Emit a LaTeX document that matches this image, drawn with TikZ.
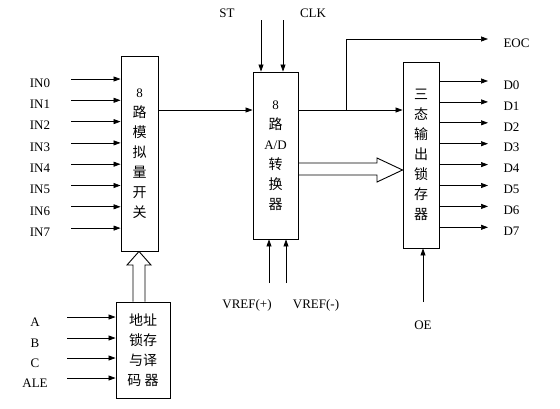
\documentclass[tikz,border=0pt]{standalone}
\usepackage{fontspec}
\setmainfont{Liberation Serif}
\newfontfamily\cjk{Noto Sans CJK SC}
\newcommand{\zh}[1]{{\cjk\fontsize{14}{20}\selectfont #1}}
\usetikzlibrary{arrows.meta}
\begin{document}
\begin{tikzpicture}[x=1pt,y=-1pt,
    blk/.style={draw,line width=0.9pt,inner sep=0pt,align=center,font=\fontsize{13}{20}\selectfont},
    sig/.style={line width=0.7pt,-{Triangle[length=7pt,width=5pt]}},
    hollow/.style={line width=0.9pt},
    lbl/.style={font=\fontsize{13}{15}\selectfont}]
    \useasboundingbox (0,0) rectangle (560,408);
    % blocks
    \node[blk,minimum width=37pt,minimum height=195pt] (mux) at (139.5,153.5)
        {8\\\zh{路}\\\zh{模}\\\zh{拟}\\\zh{量}\\\zh{开}\\\zh{关}};
    \node[blk,minimum width=45pt,minimum height=167pt] (adc) at (275.5,155.5)
        {8\\\zh{路}\\A/D\\\zh{转}\\\zh{换}\\\zh{器}};
    \node[blk,minimum width=36pt,minimum height=186pt] (latch) at (421,155)
        {\zh{三}\\\zh{态}\\\zh{输}\\\zh{出}\\\zh{锁}\\\zh{存}\\\zh{器}};
    \node[blk,minimum width=54pt,minimum height=96pt] (dec) at (143,350)
        {\zh{地址}\\\zh{锁存}\\\zh{与译}\\\zh{码\ 器}};
    % analog inputs
    \foreach \i [evaluate=\i as \y using 79+21.3*\i] in {0,...,7} {
        \node[lbl] (in\i) at (40,\y+4) {IN\i};
        \coordinate (in\i s) at (71,\y);
        \draw[sig] (in\i s) -- (in\i s -| mux.west);
    }
    % data outputs
    \foreach \i [evaluate=\i as \y using 81+20.9*\i] in {0,...,7} {
        \node[lbl,anchor=west] (d\i) at (500,\y+4) {D\i};
        \coordinate (d\i e) at (488,\y);
        \draw[sig] (d\i e -| latch.east) -- (d\i e);
    }
    % address inputs
    \foreach \t/\y [count=\k] in {A/317,B/338,C/358,ALE/378} {
        \node[lbl] (ad\k) at (35,\y+5) {\t};
        \coordinate (ad\k s) at (67,\y);
        \draw[sig] (ad\k s) -- (ad\k s -| dec.west);
    }
    % control lines
    \node[lbl] (st) at (227,13) {ST};
    \node[lbl] (clk) at (313,13) {CLK};
    \coordinate (sts) at (261,20);
    \coordinate (clks) at (283,20);
    \draw[sig] (sts) -- (sts |- adc.north);
    \draw[sig] (clks) -- (clks |- adc.north);
    \node[lbl] (vp) at (247,305) {VREF(+)};
    \node[lbl] (vm) at (316,305) {VREF(-)};
    \coordinate (vps) at (269,283);
    \coordinate (vms) at (286,283);
    \draw[sig] (vps) -- (vps |- adc.south);
    \draw[sig] (vms) -- (vms |- adc.south);
    \node[lbl] (oe) at (423,325) {OE};
    \coordinate (oes) at (423,302);
    \draw[sig] (oes) -- (oes |- latch.south);
    % mux to adc, adc to latch, EOC
    \draw[sig] (mux.east |- 0,110) -- (adc.west |- 0,110);
    \coordinate (eocj) at (346,110);
    \draw[sig] (adc.east |- eocj) -- (latch.west |- eocj);
    \node[lbl,anchor=west] (eoc) at (500,43) {EOC};
    \coordinate (eoct) at (488,39);
    \draw[sig] (eocj) -- (eocj |- eoct) -- (eoct);
    % hollow bus arrows
    \draw[hollow] (adc.east |- 0,163) -- (377,163) -- (377,158) -- (latch.west |- 0,170)
        -- (377,182) -- (377,175) -- (adc.east |- 0,175);
    \draw[hollow] (dec.north -| 133,0) -- (133,265) -- (127,265) -- (mux.south -| 139,0)
        -- (151,265) -- (145,265) -- (dec.north -| 145,0);
\end{tikzpicture}
\end{document}
